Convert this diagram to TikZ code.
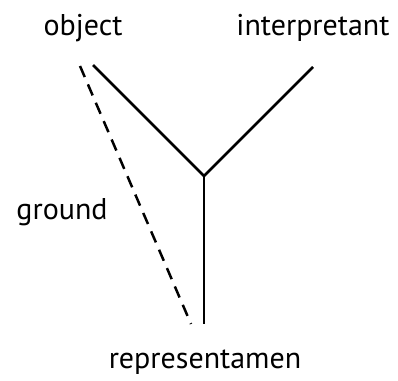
\documentclass[tikz,border=0pt]{standalone}
\usepackage{fontspec}
\setmainfont{PT Sans}
\begin{document}
\begin{tikzpicture}[x=1pt,y=-1pt,
  lbl/.style={inner sep=0pt, font=\fontsize{30}{34}\selectfont},
  edge/.style={line width=2.5pt, line cap=butt},
  gnd/.style={line width=2.5pt, dash pattern=on 12pt off 8pt}]
\useasboundingbox (0,0) rectangle (398,380);
\node[lbl] (obj) at (83,28) {object};
\node[lbl] (int) at (313,28) {interpretant};
\node[lbl] (grd) at (62,212) {ground};
\node[lbl] (rep) at (205,362) {representamen};
\coordinate (oE) at (93,65);
\coordinate (iE) at (313,67);
\coordinate (j) at (204,176);
\coordinate (rE) at (204,324);
\coordinate (gA) at (80,66);
\coordinate (gB) at (191,324);
\draw[edge] (oE) -- (j) -- (iE);
\draw[edge] (j) -- (rE);
\draw[gnd] (gA) -- (gB);
\end{tikzpicture}
\end{document}
